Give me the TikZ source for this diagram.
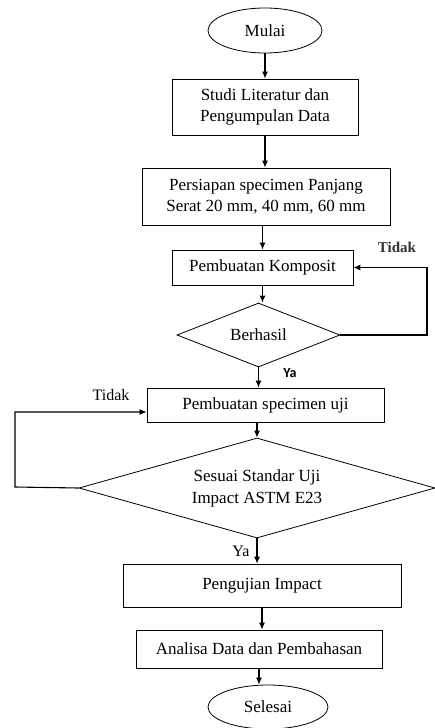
\documentclass[tikz,border=0pt]{standalone}
\usepackage{fontspec}
\setmainfont{Liberation Serif}
\newfontfamily\yafont{Carlito}
\usetikzlibrary{shapes.geometric,arrows.meta}
\begin{document}
\begin{tikzpicture}
        [x=1pt, y=-1pt, >={Latex[length=7pt,width=6pt]},
        terminal/.style={ellipse, draw, line width=0.8pt, inner sep=0pt, font=\fontsize{17}{21}\selectfont},
        box/.style={rectangle, draw, line width=0.8pt, inner sep=0pt, align=center, font=\fontsize{17}{21}\selectfont},
        decision/.style={diamond, draw, line width=0.8pt, inner sep=0pt, align=center, font=\fontsize{17}{22}\selectfont},
        note/.style={inner sep=0pt, font=\fontsize{16}{19}\selectfont},
        flow/.style={line width=1.1pt, ->}]
        \useasboundingbox (0,0) rectangle (434,728);

        \node[terminal, minimum width=114, minimum height=45] (mulai) at (265,30.5) {Mulai};
        \node[box, minimum width=186, minimum height=56] (studi) at (265,107) {Studi Literatur dan\\Pengumpulan Data};
        \node[box, minimum width=248, minimum height=57] (persiapan) at (266,196.5) {Persiapan specimen Panjang\\Serat 20 mm, 40 mm, 60 mm};
        \node[box, minimum width=181, minimum height=35] (komposit) at (262.5,267.5) {Pembuatan Komposit};
        \node[decision, aspect=2.55, minimum width=163, minimum height=64] (berhasil) at (258.5,335) {Berhasil};
        \node[box, minimum width=237, minimum height=34] (specimen) at (265.5,405) {Pembuatan specimen uji};
        \node[decision, aspect=3.56, minimum width=356, minimum height=100] (sesuai) at (257,488) {Sesuai Standar Uji\\Impact ASTM E23};
        \node[box, minimum width=278, minimum height=43] (pengujian) at (262,585.5) {Pengujian Impact};
        \node[box, minimum width=246, minimum height=38] (analisa) at (259,649) {Analisa Data dan Pembahasan};
        \node[terminal, minimum width=120, minimum height=44] (selesai) at (268,707) {Selesai};

        \node[note, font=\bfseries\fontsize{15}{18}\selectfont, text=black!80] (tidakA) at (397,247) {Tidak};
        \node[note, font=\yafont\bfseries\fontsize{14}{16}\selectfont] (yaA) at (290,373) {Ya};
        \node[note] (tidakB) at (111,395) {Tidak};
        \node[note] (yaB) at (241,551) {Ya};

        \coordinate (loopA) at (427,335);
        \coordinate (loopB) at (15,487);

        \draw[flow] (mulai.south) -- (mulai.south |- studi.north);
        \draw[flow] (studi.south) -- (studi.south |- persiapan.north);
        \draw[flow] (komposit.north |- persiapan.south) -- (komposit.north);
        \draw[flow] (komposit.south) -- (komposit.south |- berhasil.north);
        \draw[flow] (berhasil.south) -- (berhasil.south |- specimen.north);
        \draw[flow] (sesuai.north |- specimen.south) -- (sesuai.north);
        \draw[flow] (sesuai.south) -- (sesuai.south |- pengujian.north);
        \draw[flow] (pengujian.south) -- (pengujian.south |- analisa.north);
        \draw[flow] (analisa.south) -- (analisa.south |- selesai.north);

        \draw[flow] (berhasil.east) -- (loopA) |- (komposit.east);
        \draw[flow] (sesuai.west) -- (loopB) |- ([yshift=-7pt]specimen.west);

\end{tikzpicture}
\end{document}
